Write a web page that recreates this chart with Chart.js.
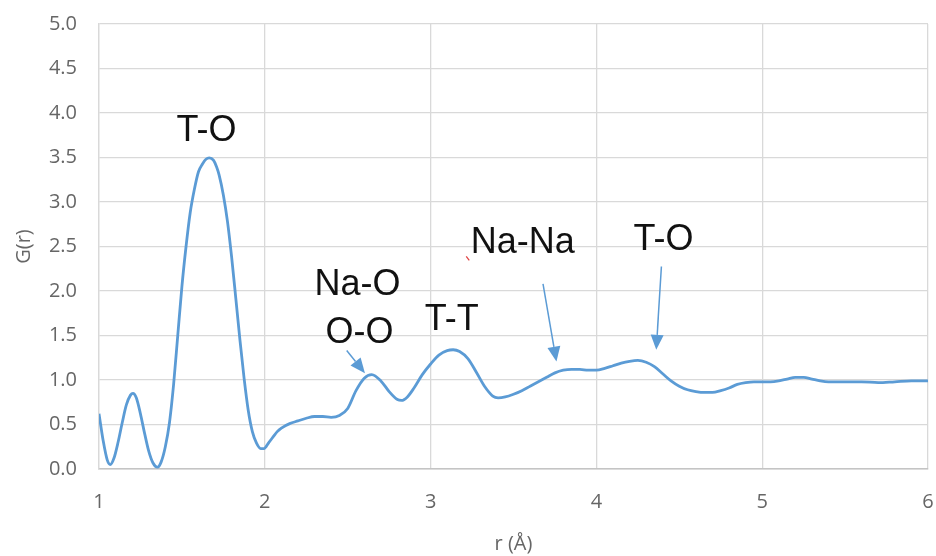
<!DOCTYPE html>
<html>
<head>
<meta charset="utf-8">
<script src="https://cdn.jsdelivr.net/npm/chart.js@4/dist/chart.umd.min.js"></script>
<style>
  html, body { margin: 0; padding: 0; background: #fff; }
  #wrap { width: 936px; height: 556px; }
</style>
</head>
<body>
<div id="wrap"><canvas id="rdf" width="936" height="556"></canvas></div>
<script>
// pair distribution function G(r)
var rValues = [1.000, 1.025, 1.050, 1.068, 1.090, 1.115, 1.140, 1.165, 1.190, 1.205,
  1.225, 1.250, 1.275, 1.300, 1.325, 1.353, 1.375, 1.400, 1.425, 1.450,
  1.475, 1.500, 1.525, 1.550, 1.575, 1.600, 1.625, 1.645, 1.665, 1.690, 1.710,
  1.725, 1.750, 1.775, 1.800, 1.825, 1.850, 1.875, 1.900, 1.925, 1.950,
  1.975, 1.995, 2.025, 2.050, 2.075, 2.100, 2.150, 2.200, 2.250, 2.300,
  2.350, 2.400, 2.450, 2.500, 2.550, 2.600, 2.645, 2.700, 2.750, 2.800,
  2.825, 2.860, 2.900, 2.950, 3.000, 3.050, 3.100, 3.136, 3.175, 3.225,
  3.275, 3.325, 3.375, 3.407, 3.450, 3.500, 3.550, 3.600, 3.650, 3.700,
  3.750, 3.800, 3.850, 3.900, 3.950, 4.000, 4.050, 4.100, 4.150, 4.200,
  4.250, 4.300, 4.350, 4.400, 4.450, 4.500, 4.550, 4.600, 4.650, 4.700,
  4.750, 4.800, 4.850, 4.900, 4.950, 5.000, 5.050, 5.100, 5.150, 5.200,
  5.250, 5.300, 5.350, 5.400, 5.500, 5.600, 5.700, 5.800, 5.900, 6.000];
var gValues = [0.62, 0.32, 0.10, 0.05, 0.12, 0.30, 0.52, 0.72, 0.83, 0.85,
  0.80, 0.62, 0.40, 0.20, 0.07, 0.02, 0.08, 0.25, 0.52, 0.95,
  1.50, 2.05, 2.50, 2.88, 3.14, 3.34, 3.43, 3.48, 3.495, 3.47, 3.39,
  3.30, 3.08, 2.78, 2.38, 1.92, 1.45, 1.02, 0.66, 0.42, 0.29,
  0.23, 0.23, 0.30, 0.36, 0.42, 0.46, 0.51, 0.54, 0.57, 0.59,
  0.59, 0.58, 0.60, 0.68, 0.88, 1.02, 1.06, 0.99, 0.87, 0.78,
  0.77, 0.81, 0.91, 1.06, 1.18, 1.28, 1.33, 1.34, 1.32, 1.24,
  1.09, 0.93, 0.82, 0.80, 0.81, 0.84, 0.88, 0.93, 0.98, 1.03,
  1.08, 1.11, 1.12, 1.12, 1.11, 1.11, 1.13, 1.16, 1.19, 1.21,
  1.22, 1.20, 1.15, 1.07, 0.99, 0.93, 0.89, 0.87, 0.86, 0.86,
  0.88, 0.91, 0.95, 0.97, 0.98, 0.98, 0.98, 0.99, 1.01, 1.03,
  1.03, 1.01, 0.99, 0.98, 0.98, 0.98, 0.97, 0.98, 0.99, 0.99];

// peak assignments (text centre x, baseline y in data units)
var peakNames = ['T-O', 'Na-O', 'O-O', 'T-T', 'Na-Na', 'T-O'];
var peakNameX = [1.649, 2.559, 2.571, 3.127, 3.556, 4.405];
var peakNameY = [3.68, 1.957, 1.414, 1.564, 2.426, 2.463];

// arrows pointing at the smaller peaks
var arrowFromX = [2.494, 3.678, 4.392];
var arrowFromY = [1.331, 2.081, 2.276];
var arrowToX = [2.604, 3.759, 4.361];
var arrowToY = [1.076, 1.207, 1.339];

var points = rValues.map(function (r, i) { return { x: r, y: gValues[i] }; });

var blue = '#5b9bd5';
var tickGrey = '#666';

var peakLabels = {
  id: 'peakLabels',
  afterDatasetsDraw: function (chart) {
    var ctx = chart.ctx;
    var xs = chart.scales.x, ys = chart.scales.y;
    ctx.save();

    // arrows
    ctx.strokeStyle = blue;
    ctx.fillStyle = blue;
    ctx.lineWidth = 1.5;
    for (var i = 0; i < arrowFromX.length; i++) {
      var x0 = xs.getPixelForValue(arrowFromX[i]), y0 = ys.getPixelForValue(arrowFromY[i]);
      var x1 = xs.getPixelForValue(arrowToX[i]), y1 = ys.getPixelForValue(arrowToY[i]);
      var ang = Math.atan2(y1 - y0, x1 - x0);
      var head = 15, half = 6.5;
      var bx = x1 - head * Math.cos(ang), by = y1 - head * Math.sin(ang);
      ctx.beginPath();
      ctx.moveTo(x0, y0);
      ctx.lineTo(bx, by);
      ctx.stroke();
      ctx.beginPath();
      ctx.moveTo(x1, y1);
      ctx.lineTo(bx + half * Math.sin(ang), by - half * Math.cos(ang));
      ctx.lineTo(bx - half * Math.sin(ang), by + half * Math.cos(ang));
      ctx.closePath();
      ctx.fill();
    }

    // labels
    ctx.fillStyle = '#111';
    ctx.font = '36px "Liberation Sans", Arial, sans-serif';
    ctx.textAlign = 'center';
    ctx.textBaseline = 'alphabetic';
    for (var j = 0; j < peakNames.length; j++) {
      ctx.fillText(peakNames[j], xs.getPixelForValue(peakNameX[j]), ys.getPixelForValue(peakNameY[j]));
    }

    // little red proofing mark by Na-Na
    var mx = xs.getPixelForValue(3.215), my = ys.getPixelForValue(2.39);
    ctx.strokeStyle = '#e04040';
    ctx.lineWidth = 1.2;
    ctx.beginPath();
    ctx.moveTo(mx, my);
    ctx.lineTo(mx + 3, my + 4);
    ctx.stroke();

    ctx.restore();
  }
};

new Chart(document.getElementById('rdf').getContext('2d'), {
  type: 'scatter',
  data: {
    datasets: [{
      data: points,
      showLine: true,
      borderColor: blue,
      borderWidth: 2.8,
      pointRadius: 0,
      cubicInterpolationMode: 'monotone',
      fill: false
    }]
  },
  options: {
    responsive: false,
    animation: false,
    events: [],
    layout: { padding: { top: 24, right: 8, left: 0, bottom: 0 } },
    plugins: {
      legend: { display: false },
      tooltip: { enabled: false }
    },
    scales: {
      x: {
        type: 'linear',
        min: 1,
        max: 6,
        afterFit: function (s) {
          s.height = 87;
          s.paddingLeft = 0;
          s.paddingRight = 0;
        },
        ticks: {
          stepSize: 1,
          padding: 21,
          color: tickGrey,
          font: { family: '"Open Sans", sans-serif', size: 20 }
        },
        grid: { color: '#d9d9d9', lineWidth: 1.3, drawTicks: false },
        border: { color: '#c4c4c4', width: 1.5 },
        title: {
          display: true,
          text: 'r (Å)',
          color: tickGrey,
          font: { family: '"Open Sans", sans-serif', size: 20 },
          padding: { top: 0, bottom: 0 }
        }
      },
      y: {
        min: 0,
        max: 5,
        afterFit: function (s) {
          s.width = 99;
          s.paddingTop = 0;
          s.paddingBottom = 0;
        },
        ticks: {
          stepSize: 0.5,
          padding: 22,
          color: tickGrey,
          font: { family: '"Open Sans", sans-serif', size: 20 },
          callback: function (v) { return v.toFixed(1); }
        },
        grid: { color: '#d9d9d9', lineWidth: 1.3, drawTicks: false },
        border: { color: '#d9d9d9', width: 1.3 },
        title: {
          display: true,
          text: 'G(r)',
          color: tickGrey,
          font: { family: '"Open Sans", sans-serif', size: 20 },
          padding: { top: 12, bottom: 0 }
        }
      }
    }
  },
  plugins: [peakLabels]
});
</script>
</body>
</html>
